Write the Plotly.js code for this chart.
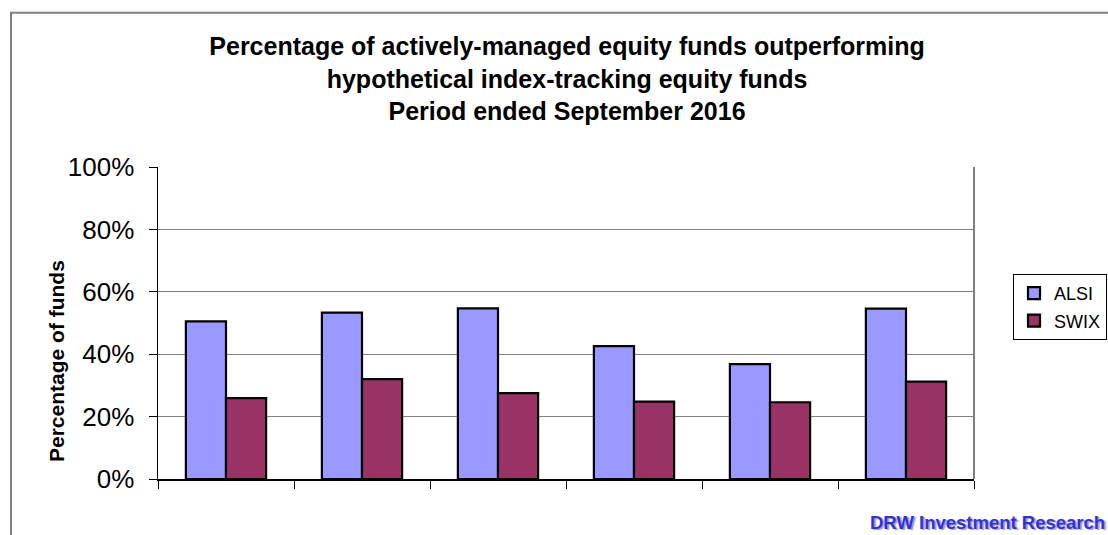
<!DOCTYPE html>
<html>
<head>
<meta charset="utf-8">
<script src="https://cdn.plot.ly/plotly-3.0.1.min.js"></script>
<style>
html,body{margin:0;padding:0;background:#fff;}
#chart{width:1108px;height:535px;}
</style>
</head>
<body>
<div id="chart"></div>
<script>
// Data
const categories = ["P1", "P2", "P3", "P4", "P5", "P6"];
const alsiValues = [50.5, 53.3, 54.7, 42.6, 36.8, 54.6];
const swixValues = [25.9, 32.0, 27.5, 24.8, 24.6, 31.2];
const yTickVals = [0, 20, 40, 60, 80, 100];
const yTickText = ["0%", "20%", "40%", "60%", "80%", "100%"];

const font = "Liberation Sans, Arial, Helvetica, sans-serif";

const traces = [
  {
    type: "bar", name: "ALSI", x: categories, y: alsiValues, legendgroup: "a",
    marker: {color: "#9999ff", line: {color: "#000000", width: 2.2}},
    hoverinfo: "skip"
  },
  {
    type: "bar", name: "SWIX", x: categories, y: swixValues, legendgroup: "b",
    marker: {color: "#993366", line: {color: "#000000", width: 2.2}},
    hoverinfo: "skip"
  }
];

const L = 158, R = 134, T = 167, B = 56;
const W = 1108 - L - R, H = 535 - T - B;
function px(x){ return (x - L) / W; }
function py(y){ return (535 - B - y) / H; }

const layout = {
  width: 1108, height: 535,
  margin: {l: L, r: R, t: T, b: B, pad: 0},
  paper_bgcolor: "#ffffff", plot_bgcolor: "#ffffff",
  font: {family: font, color: "#000000"},
  barmode: "group",
  bargap: 0.41, bargroupgap: 0,
  title: {
    text: "Percentage of actively-managed equity funds outperforming<br>hypothetical index-tracking equity funds<br>Period ended September 2016",
    font: {family: font, size: 25, color: "#000000", weight: "bold"},
    x: 567 / 1108, xref: "container", xanchor: "center",
    y: 1 - 55 / 535, yref: "container", yanchor: "top"
  },
  xaxis: {
    type: "category",
    showticklabels: false,
    ticks: "outside", ticklen: 8, tickcolor: "#000000", tickwidth: 1,
    tickson: "boundaries",
    showline: true, linecolor: "#000000", linewidth: 1.5,
    showgrid: false, zeroline: false, fixedrange: true
  },
  yaxis: {
    range: [0, 100],
    tickvals: yTickVals, ticktext: yTickText,
    tickfont: {family: font, size: 26, color: "#000000"},
    ticks: "outside", ticklen: 8, tickcolor: "#000000", tickwidth: 1,
    ticklabelstandoff: 9,
    showline: true, linecolor: "#000000", linewidth: 1.5,
    showgrid: true, gridcolor: "#808080", gridwidth: 1.3,
    zeroline: false, fixedrange: true
  },
  showlegend: true,
  legend: {
    xref: "container", yref: "container",
    x: 1013 / 1108, y: 1 - 274 / 535, xanchor: "left", yanchor: "top",
    bordercolor: "#000000", borderwidth: 1, bgcolor: "#ffffff",
    font: {family: font, size: 18, color: "#000000"},
    itemwidth: 30, traceorder: "grouped", tracegroupgap: 1
  },
  annotations: [
    {
      text: "<b>Percentage of funds</b>", textangle: -90,
      font: {family: font, size: 21, color: "#000000"},
      xref: "paper", yref: "paper", x: px(56), y: py(361),
      xanchor: "center", yanchor: "middle", showarrow: false
    },
    {
      text: "<b>DRW Investment Research</b>",
      font: {family: font, size: 18.5, color: "#3333cc",
             shadow: "2px 1px 1px #9999ee"},
      xref: "paper", yref: "paper", x: px(1107), y: py(522),
      xanchor: "right", yanchor: "middle", showarrow: false
    }
  ],
  shapes: [
    {type: "rect", xref: "paper", yref: "paper", x0: px(11), x1: px(1130), y0: py(12.7), y1: py(560),
     line: {color: "#808080", width: 2}, fillcolor: "rgba(0,0,0,0)", layer: "below"},
    {type: "line", xref: "paper", yref: "paper", x0: 1, x1: 1, y0: 0, y1: 1,
     line: {color: "#808080", width: 2}}
  ]
};

Plotly.newPlot("chart", traces, layout, {displayModeBar: false, staticPlot: true});
</script>
</body>
</html>
